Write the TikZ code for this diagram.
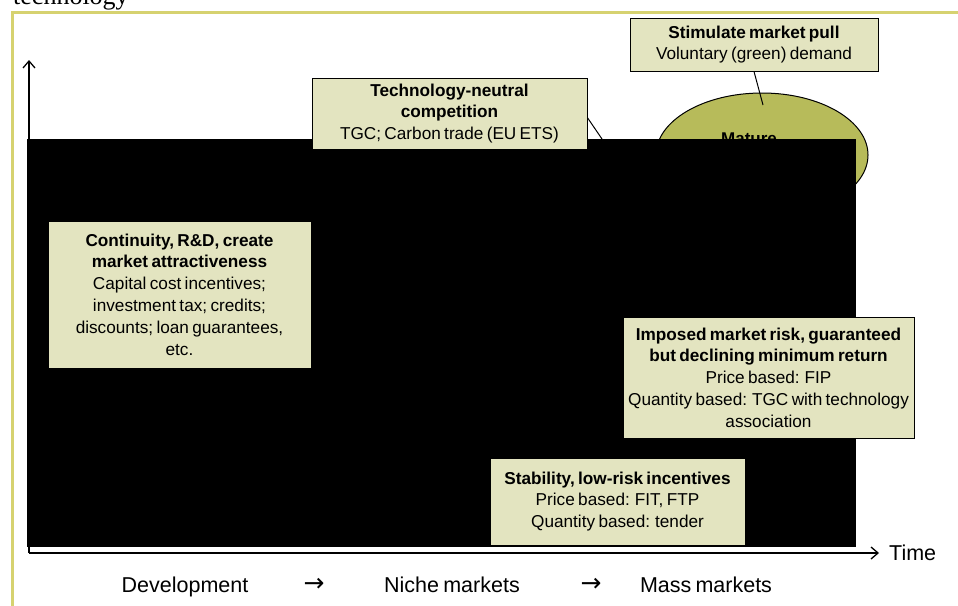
\documentclass[tikz,border=0pt]{standalone}
\usepackage{fontspec}
\setmainfont{Liberation Sans}[WordSpace=0.7]
\newfontfamily\timesfont{Liberation Serif}
\newfontfamily\arrowfont{DejaVu Sans}
\usetikzlibrary{arrows.meta,shapes.geometric}

\definecolor{framegold}{RGB}{214,210,112}
\definecolor{boxcream}{RGB}{227,228,192}
\definecolor{matureolive}{RGB}{183,187,90}

\tikzset{
  policy/.style={draw=black,line width=1pt,fill=boxcream,align=center,inner sep=0pt,
    font=\fontsize{17.2}{21.8}\selectfont},
  axisline/.style={line width=1.3pt,-{Straight Barb[length=7pt,width=12pt]}},
  stage/.style={anchor=base,font=\fontsize{21.5}{24}\selectfont},
  stagearrow/.style={anchor=base,font=\arrowfont\fontsize{25}{24}\selectfont}
}

\begin{document}
\begin{tikzpicture}[x=1pt,y=-1pt]
  \useasboundingbox (0,0) rectangle (958,605);
  \clip (0,0) rectangle (958,605);

  \node[anchor=base west,inner sep=0pt,font=\timesfont\fontsize{26}{26}\selectfont] (caption) at (13,5) {technology};
  \draw[framegold,line width=3pt] (12,620) -- (12,12) -- (970,12);

  % axes
  \coordinate (origin) at (29,553);
  \coordinate (ytop) at (29,60);
  \coordinate (xend) at (879,553);
  \draw[axisline] (origin) -- (ytop);
  \draw[axisline] (origin) -- (xend);
  \node[anchor=west,inner sep=0pt,font=\fontsize{21.5}{24}\selectfont] (time) at ([xshift=10pt]xend) {Time};

  % mature market bubble
  \node[ellipse,draw,line width=1pt,fill=matureolive,minimum width=212,minimum height=124] (mature) at (762,155) {};
  \node[anchor=base,inner sep=0pt,font=\bfseries\fontsize{17}{17}\selectfont] (maturetxt) at (749,144) {Mature};
  \coordinate (pulltip) at (763,105);
  \coordinate (neutraltip) at (602,139);

  \node[policy,minimum width=248,minimum height=53] (pull) at (754,44.5)
    {\textbf{Stimulate market pull}\\Voluntary (green) demand};
  \draw[line width=1pt] (pull.south) -- (pulltip);
  \coordinate (neutralside) at (587,117);
  \draw[line width=1pt] (neutralside) -- (neutraltip);

  \fill[black] (27,139) rectangle (856,547);

  \node[policy,minimum width=275,minimum height=71] (neutral) at (449.5,113.5)
    {\textbf{Technology-neutral}\\\textbf{competition}\\TGC; Carbon trade (EU ETS)};
  \node[policy,minimum width=263,minimum height=147] (continuity) at (179.5,294.5)
    {\textbf{Continuity, R\&D, create}\\\textbf{market attractiveness}\\Capital cost incentives;\\investment tax; credits;\\discounts; loan guarantees,\\etc.};
  \node[policy,minimum width=291,minimum height=121] (imposed) at (768.5,377.5)
    {\textbf{Imposed market risk, guaranteed}\\\textbf{but declining minimum return}\\Price based: FIP\\Quantity based: TGC with technology\\association};
  \node[policy,minimum width=255,minimum height=87] (stable) at (617.5,501.5)
    {\textbf{Stability, low-risk incentives}\\Price based: FIT, FTP\\Quantity based: tender};

  % market stages along the time axis
  \node[stage] (dev) at (185,592) {Development};
  \node[stagearrow] (arrowa) at (314,591) {→};
  \node[stage] (niche) at (452,592) {Niche markets};
  \node[stagearrow] (arrowb) at (591,591) {→};
  \node[stage] (mass) at (706,592) {Mass markets};
\end{tikzpicture}
\end{document}
